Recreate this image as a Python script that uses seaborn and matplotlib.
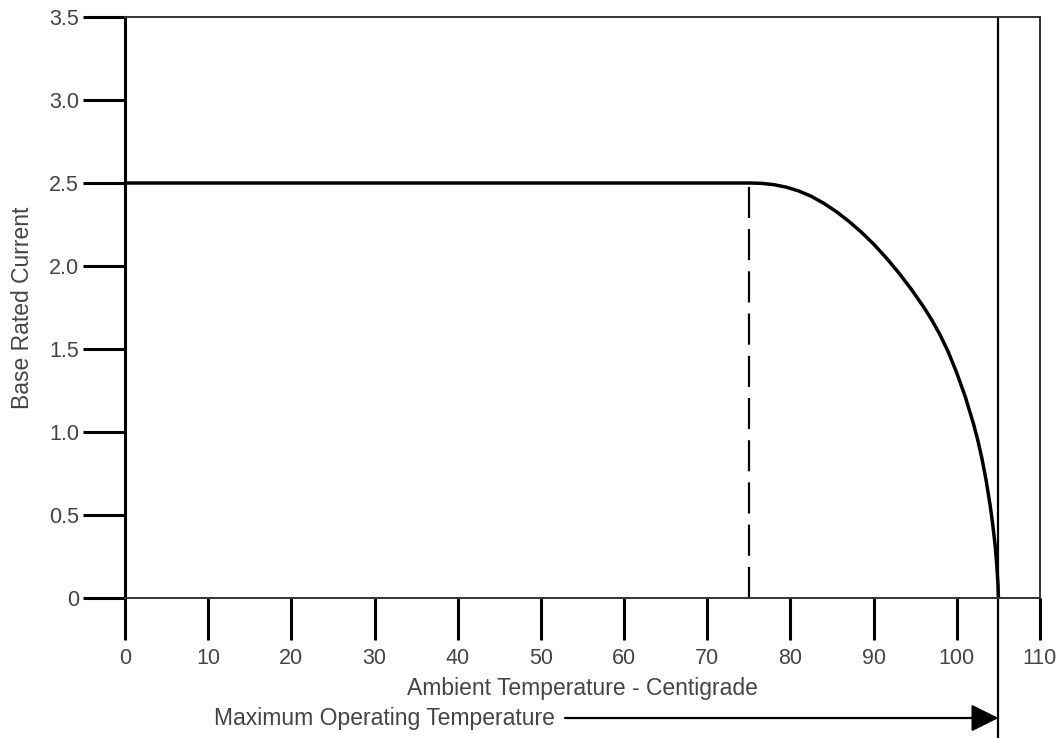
import pandas as pd
import seaborn as sns
import matplotlib.pyplot as plt


# Derating curve
temp = [0, 75, 76.5, 78, 79.5, 81, 82.5, 84, 85.5, 87, 88.5, 90, 91.5, 93,
        94.5, 96, 97, 98, 99, 100, 101, 102, 102.5, 103, 103.5, 104, 104.3,
        104.6, 104.8, 104.95, 105]
current = [2.5, 2.5, 2.498, 2.49, 2.475, 2.452, 2.42, 2.378, 2.328, 2.27,
           2.205, 2.132, 2.05, 1.96, 1.862, 1.754, 1.674, 1.584, 1.479, 1.355,
           1.215, 1.05, 0.955, 0.845, 0.715, 0.56, 0.45, 0.32, 0.20, 0.08, 0.0]

derate_start = 75
rated_current = 2.5
max_temp = 105

x_ticks = [0, 10, 20, 30, 40, 50, 60, 70, 80, 90, 100, 110]
y_ticks = [0, 0.5, 1.0, 1.5, 2.0, 2.5, 3.0, 3.5]
y_tick_labels = ['0', '0.5', '1.0', '1.5', '2.0', '2.5', '3.0', '3.5']

sns.set_style('white')
plt.rcParams['font.family'] = ['Liberation Sans', 'DejaVu Sans']

df = pd.DataFrame({'temp': temp, 'current': current})

fig = plt.figure(figsize=(10.64, 7.38), dpi=100)
ax = fig.add_axes([125 / 1064, 140 / 738, 915 / 1064, 581 / 738])

sns.lineplot(data=df, x='temp', y='current', color='black', lw=2.5,
             sort=False, ax=ax)

# dashed drop line at start of derating
ax.plot([derate_start, derate_start], [0, rated_current], color='black',
        lw=1.6, dashes=(14, 5))

# maximum operating temperature line, runs below the axes
ax.axvline(max_temp, ymin=-0.241, ymax=1, color='black', lw=1.6, clip_on=False)

ax.set_xlim(0, 110)
ax.set_ylim(0, 3.5)
ax.set_xticks(x_ticks)
ax.set_yticks(y_ticks)
ax.set_yticklabels(y_tick_labels)

ax.tick_params(axis='both', bottom=True, left=True, direction='out',
               length=30, width=2.2, color='black', labelsize=15.5,
               labelcolor='#444444')
ax.tick_params(axis='x', pad=6)
ax.tick_params(axis='y', pad=3)

for side in ['top', 'right', 'bottom']:
    ax.spines[side].set_color('#333333')
    ax.spines[side].set_linewidth(1.4)
ax.spines['left'].set_color('black')
ax.spines['left'].set_linewidth(2.2)

ax.set_xlabel('Ambient Temperature - Centigrade', fontsize=16.5,
              color='#444444', va='center')
ax.xaxis.set_label_coords(0.5, -0.155)
ax.set_ylabel('Base Rated Current', fontsize=16.5, color='#444444',
              va='center')
ax.yaxis.set_label_coords(-0.112, 0.5)

# arrow pointing at max operating temperature
ax.text(51.7, -0.723, 'Maximum Operating Temperature', fontsize=16.5,
        color='#444444', ha='right', va='center')
ax.annotate('', xy=(max_temp, -0.723), xytext=(52.9, -0.723),
            arrowprops=dict(arrowstyle='-|>', color='black', lw=1.6,
                            mutation_scale=42, shrinkA=0, shrinkB=0),
            annotation_clip=False)

fig.savefig('out.png', dpi=100)
